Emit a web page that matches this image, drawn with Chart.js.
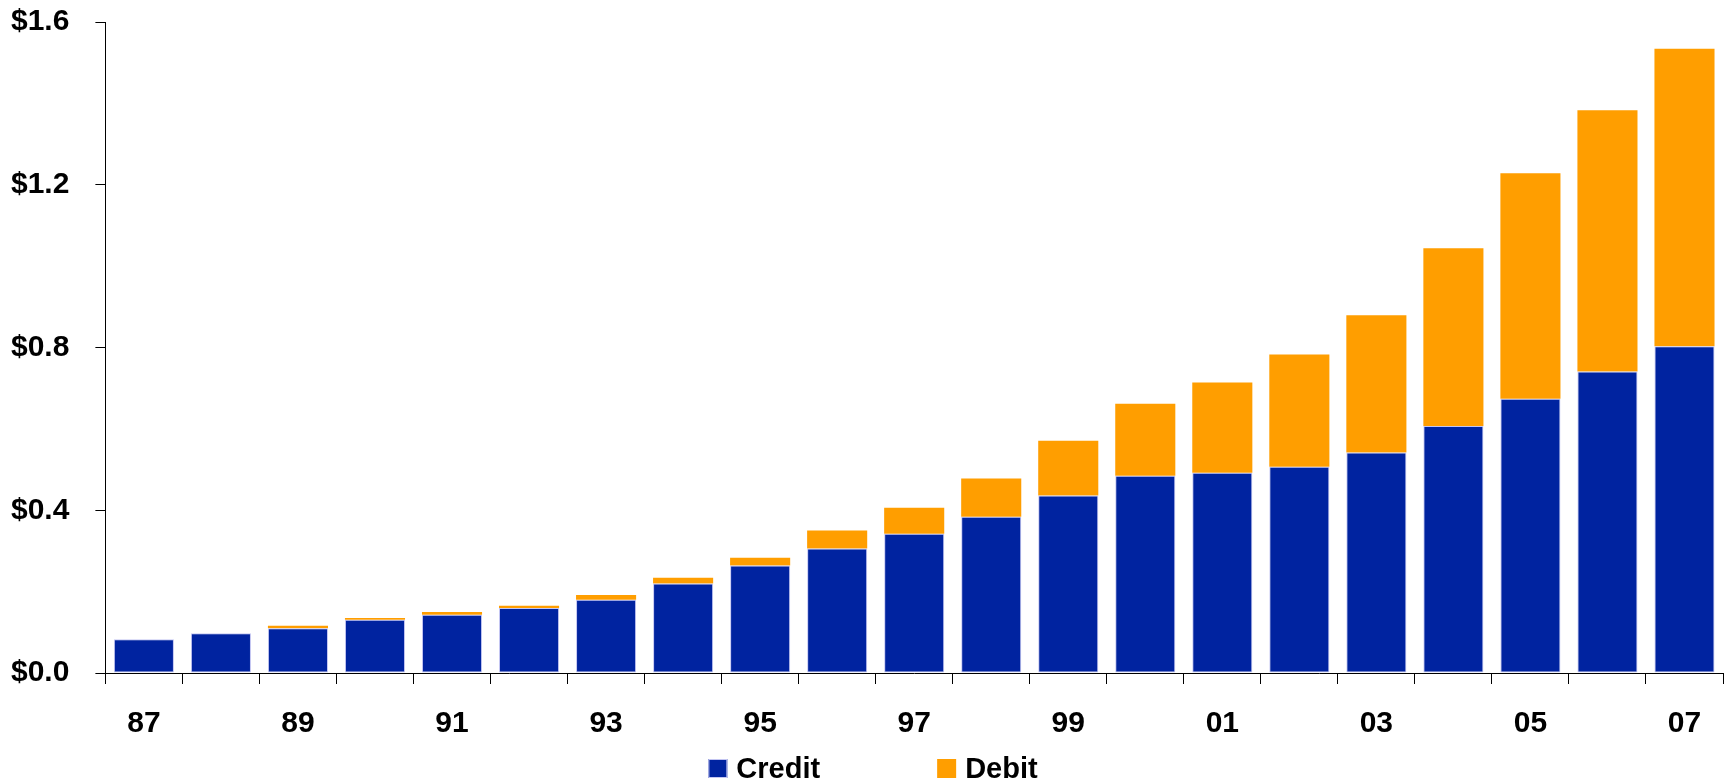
<!DOCTYPE html>
<html>
<head>
<meta charset="utf-8">
<title>Credit and Debit</title>
<script src="https://cdn.jsdelivr.net/npm/chart.js@4.4.1/dist/chart.umd.min.js"></script>
<style>
    html, body { margin: 0; padding: 0; background: #fff; }
    #wrap { width: 1726px; height: 782px; position: relative; }
</style>
</head>
<body>
<div id="wrap"><canvas id="mainChart"></canvas></div>
<script>
// --- DATA ($ trillions) ---

const YEARS = ['87', '88', '89', '90', '91', '92', '93', '94', '95', '96', '97',
               '98', '99', '00', '01', '02', '03', '04', '05', '06', '07'];

const CREDIT = [0.083, 0.098, 0.110, 0.131, 0.143, 0.160, 0.180, 0.220, 0.264, 0.306, 0.342,
                0.384, 0.436, 0.485, 0.492, 0.507, 0.542, 0.607, 0.674, 0.741, 0.803];

const DEBIT = [0.000, 0.000, 0.006, 0.004, 0.007, 0.005, 0.012, 0.014, 0.019, 0.044, 0.064,
               0.094, 0.135, 0.177, 0.222, 0.276, 0.337, 0.437, 0.554, 0.642, 0.731];

const Y_TICKS = [0, 0.4, 0.8, 1.2, 1.6];

const FONT_FAMILY = '"Liberation Sans", Arial, sans-serif';
const LABEL_FONT = { family: FONT_FAMILY, size: 30, weight: 'bold' };

// legend drawn under the axis, two items side by side
const bottomLegend = {
    id: 'bottomLegend',
    afterDraw(chart) {
        const ctx = chart.ctx;
        const box = 19, gap = 9, spacing = 117;
        ctx.save();
        ctx.font = `bold 29px ${FONT_FAMILY}`;
        ctx.textBaseline = 'alphabetic';
        ctx.textAlign = 'left';
        const items = chart.data.datasets.map(ds => ({
            text: ds.label,
            fill: ds.backgroundColor,
            stroke: ds.borderWidth ? ds.borderColor : null,
            w: ctx.measureText(ds.label).width
        }));
        const total = items.reduce((s, it) => s + box + gap + it.w, 0) + spacing * (items.length - 1);
        let x = chart.width / 2 + 10 - total / 2;
        const baseline = chart.height - 4;
        items.forEach(it => {
            ctx.fillStyle = it.fill;
            ctx.fillRect(x, baseline - box, box, box);
            if (it.stroke) {
                ctx.strokeStyle = it.stroke;
                ctx.lineWidth = 1;
                ctx.strokeRect(x + 0.5, baseline - box + 0.5, box - 1, box - 1);
            }
            ctx.fillStyle = '#000';
            ctx.fillText(it.text, x + box + gap, baseline);
            x += box + gap + it.w + spacing;
        });
        ctx.restore();
    }
};

// Chart.js reserves tick padding twice and adds it to the edge padding; undo that
function trimAxis(axis) {
    if (axis.isHorizontal()) axis.height -= axis.options.ticks.padding;
    else axis.width -= axis.options.ticks.padding;
    axis.paddingTop = 0;
    axis.paddingBottom = 0;
    axis.paddingLeft = 0;
    axis.paddingRight = 0;
}

const ctx = document.getElementById('mainChart').getContext('2d');

new Chart(ctx, {
    type: 'bar',
    data: {
        labels: YEARS,
        datasets: [
            {
                label: 'Credit',
                data: CREDIT,
                backgroundColor: '#0023a0',
                borderColor: '#c4c6f2',
                borderWidth: 1,
                borderSkipped: false,
                barPercentage: 0.78,
                categoryPercentage: 1.0
            },
            {
                label: 'Debit',
                data: DEBIT,
                backgroundColor: '#ff9e00',
                borderWidth: 0,
                barPercentage: 0.78,
                categoryPercentage: 1.0
            }
        ]
    },
    options: {
        responsive: true,
        maintainAspectRatio: false,
        animation: false,
        layout: { padding: { top: 22, left: 11, right: 3, bottom: 40 } },
        plugins: {
            legend: { display: false },
            tooltip: { enabled: false }
        },
        scales: {
            x: {
                stacked: true,
                afterFit: trimAxis,
                grid: {
                    offset: true,
                    drawOnChartArea: false,
                    drawTicks: true,
                    tickLength: 11,
                    color: '#000'
                },
                border: { display: true, color: '#000', width: 1 },
                ticks: {
                    autoSkip: false,
                    maxRotation: 0,
                    padding: 22,
                    color: '#000',
                    font: LABEL_FONT,
                    callback: (val, i) => (i % 2 === 0 ? YEARS[i] : '')
                }
            },
            y: {
                stacked: true,
                min: 0,
                max: 1.6,
                afterBuildTicks: axis => { axis.ticks = Y_TICKS.map(v => ({ value: v })); },
                afterFit: trimAxis,
                grid: {
                    drawOnChartArea: false,
                    drawTicks: true,
                    tickLength: 10,
                    color: '#000'
                },
                border: { display: true, color: '#000', width: 1 },
                ticks: {
                    padding: 26,
                    color: '#000',
                    font: LABEL_FONT,
                    callback: val => '$' + Number(val).toFixed(1)
                }
            }
        }
    },
    plugins: [bottomLegend]
});
</script>
</body>
</html>
